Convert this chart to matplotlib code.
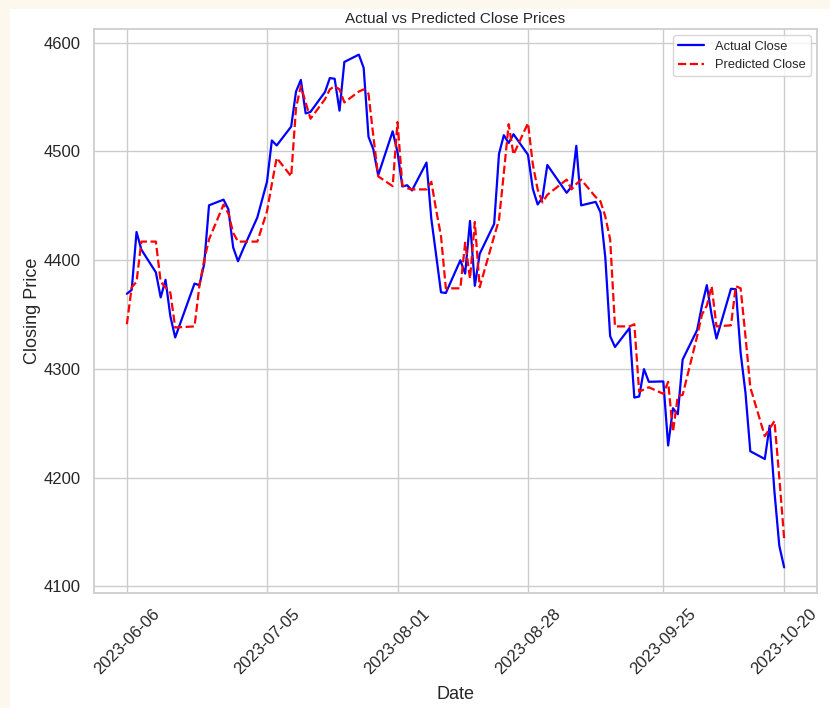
import matplotlib
matplotlib.use("Agg")
import matplotlib.pyplot as plt
import seaborn as sns
import pandas as pd
from matplotlib.patches import Rectangle

dates = [
    "2023-06-06", "2023-06-07", "2023-06-08", "2023-06-09", "2023-06-12", "2023-06-13",
    "2023-06-14", "2023-06-15", "2023-06-16", "2023-06-20", "2023-06-21", "2023-06-22",
    "2023-06-23", "2023-06-26", "2023-06-27", "2023-06-28", "2023-06-29", "2023-06-30",
    "2023-07-03", "2023-07-05", "2023-07-06", "2023-07-07", "2023-07-10", "2023-07-11",
    "2023-07-12", "2023-07-13", "2023-07-14", "2023-07-17", "2023-07-18", "2023-07-19",
    "2023-07-20", "2023-07-21", "2023-07-24", "2023-07-25", "2023-07-26", "2023-07-27",
    "2023-07-28", "2023-07-31", "2023-08-01", "2023-08-02", "2023-08-03", "2023-08-04",
    "2023-08-07", "2023-08-08", "2023-08-09", "2023-08-10", "2023-08-11", "2023-08-14",
    "2023-08-15", "2023-08-16", "2023-08-17", "2023-08-18", "2023-08-21", "2023-08-22",
    "2023-08-23", "2023-08-24", "2023-08-25", "2023-08-28", "2023-08-29", "2023-08-30",
    "2023-08-31", "2023-09-01", "2023-09-05", "2023-09-06", "2023-09-07", "2023-09-08",
    "2023-09-11", "2023-09-12", "2023-09-13", "2023-09-14", "2023-09-15", "2023-09-18",
    "2023-09-19", "2023-09-20", "2023-09-21", "2023-09-22", "2023-09-25", "2023-09-26",
    "2023-09-27", "2023-09-28", "2023-09-29", "2023-10-02", "2023-10-03", "2023-10-04",
    "2023-10-05", "2023-10-06", "2023-10-09", "2023-10-10", "2023-10-11", "2023-10-12",
    "2023-10-13", "2023-10-16", "2023-10-17", "2023-10-18", "2023-10-19", "2023-10-20",
]

actual_close = [
    4369.01, 4372.59, 4425.84, 4409.59, 4388.71, 4365.69, 4381.89, 4348.33, 4328.82,
    4378.41, 4376.86, 4396.44, 4450.38, 4455.59, 4446.82, 4411.59, 4398.95, 4409.53,
    4439.26, 4472.16, 4510.04, 4505.42, 4522.79, 4554.98, 4565.72, 4534.87, 4536.34,
    4554.64, 4567.46, 4566.75, 4537.41, 4582.23, 4588.96, 4576.73, 4513.39, 4501.89,
    4478.03, 4518.44, 4499.38, 4467.71, 4468.83, 4464.05, 4489.72, 4437.86, 4404.33,
    4370.36, 4369.71, 4399.77, 4387.55, 4436.01, 4376.31, 4405.71, 4433.31, 4497.63,
    4514.87, 4507.66, 4515.77, 4496.83, 4465.48, 4451.14, 4457.49, 4487.46, 4461.90,
    4467.44, 4505.10, 4450.32, 4453.53, 4443.95, 4402.20, 4330.00, 4320.06, 4337.44,
    4273.53, 4274.51, 4299.70, 4288.05, 4288.39, 4229.45, 4263.75, 4258.19, 4308.50,
    4335.66, 4358.24, 4376.95, 4349.61, 4327.78, 4373.63, 4373.20, 4314.60, 4278.00,
    4224.16, 4217.04, 4247.68, 4186.77, 4137.23, 4117.37,
]

predicted_close = [
    4341, 4375, 4380, 4417, 4417, 4380, 4375, 4370, 4338, 4339,
    4376, 4400, 4419, 4451, 4443, 4425, 4417, 4417, 4417, 4445,
    4470, 4494, 4477, 4540, 4560, 4545, 4530, 4548, 4557, 4560,
    4557, 4545, 4555, 4557, 4553, 4514, 4477, 4468, 4527, 4469,
    4466, 4465, 4465, 4472, 4446, 4422, 4374, 4374, 4416, 4383,
    4435, 4375, 4422, 4437, 4480, 4525, 4497, 4526, 4488, 4465,
    4453, 4460, 4474, 4465, 4470, 4474, 4458, 4454, 4440, 4419,
    4339, 4339, 4341, 4279, 4281, 4283, 4277, 4288, 4242, 4275,
    4276, 4330, 4350, 4358, 4376, 4339, 4340, 4376, 4374, 4330,
    4283, 4238, 4245, 4252, 4200, 4144,
]

tick_labels = dates[::19]

sns.set_theme(style="whitegrid")
plt.rcParams['font.family'] = ['Liberation Sans', 'DejaVu Sans']

W, H = 830, 708
fig = plt.figure(figsize=(W / 100, H / 100), dpi=100, facecolor="#fdf8ee")
fig.patches.append(Rectangle((10 / W, 0), 1, 1 - 9 / H, transform=fig.transFigure,
                             facecolor="white", edgecolor="none", zorder=-10))
ax = fig.add_axes([94 / W, 1 - 593 / H, (817 - 94) / W, (593 - 29) / H])

x = pd.to_datetime(dates)
ax.plot(x, actual_close, color="blue", lw=1.6, label="Actual Close")
ax.plot(x, predicted_close, color="red", lw=1.6, ls="--", label="Predicted Close")

ticks = pd.to_datetime(tick_labels)
ax.set_xticks(ticks)
ax.set_xticklabels(tick_labels, rotation=45, fontsize=12)
ax.tick_params(axis="y", labelsize=12)
ax.set_title("Actual vs Predicted Close Prices", fontsize=11, pad=4)
ax.set_xlabel("Date", fontsize=13, labelpad=6)
ax.set_ylabel("Closing Price", fontsize=13, labelpad=2)
ax.legend(loc="upper right", fontsize=9.3)

fig.savefig("out.png", dpi=100, facecolor=fig.get_facecolor())
